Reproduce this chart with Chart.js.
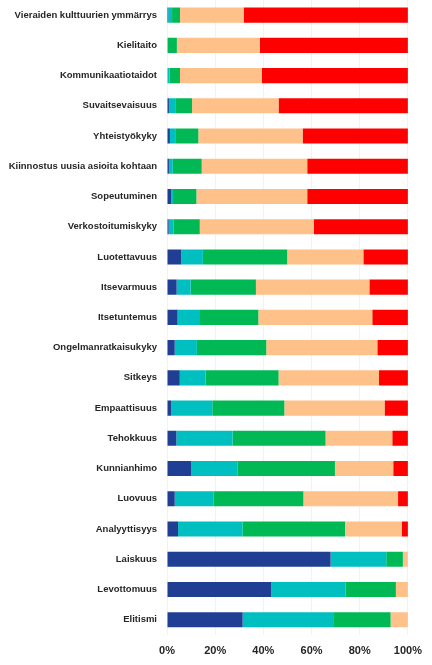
<!DOCTYPE html>
<html>
<head>
<meta charset="utf-8">
<script src="https://cdn.jsdelivr.net/npm/chart.js@4"></script>
<style>
  html, body { margin: 0; padding: 0; background: #fff; }
  #wrap { width: 432px; height: 665px; }
</style>
</head>
<body>
<div id="wrap"><canvas id="skillsChart"></canvas></div>
<script>
// categories (top to bottom)
const categories = [
  'Vieraiden kulttuurien ymmärrys', 'Kielitaito', 'Kommunikaatiotaidot',
  'Suvaitsevaisuus', 'Yhteistyökyky', 'Kiinnostus uusia asioita kohtaan',
  'Sopeutuminen', 'Verkostoitumiskyky', 'Luotettavuus', 'Itsevarmuus',
  'Itsetuntemus', 'Ongelmanratkaisukyky', 'Sitkeys', 'Empaattisuus',
  'Tehokkuus', 'Kunnianhimo', 'Luovuus', 'Analyyttisyys', 'Laiskuus',
  'Levottomuus', 'Elitismi'
];

// shares per answer level, percent
const level1 = [0.5, 0, 0, 0.8, 1.2, 0.8, 1.8, 0.7, 5.9, 4.0, 4.4, 3.2, 5.3, 1.7, 3.9, 10.0, 3.2, 4.6, 67.9, 43.2, 31.4];
const level2 = [1.6, 0.4, 1.1, 2.9, 2.5, 1.6, 0.7, 2.1, 9.0, 5.8, 9.3, 9.2, 10.7, 17.1, 23.3, 19.2, 16.2, 26.7, 23.1, 31.0, 37.9];
const level3 = [3.3, 3.7, 4.3, 6.7, 9.3, 12.0, 9.7, 10.8, 35.0, 27.1, 24.2, 28.8, 30.3, 29.9, 38.6, 40.5, 37.2, 42.6, 6.9, 20.8, 23.5];
const level4 = [26.4, 34.5, 34.0, 35.9, 43.3, 43.8, 46.0, 47.3, 31.6, 47.1, 47.3, 46.1, 41.7, 41.6, 27.7, 24.2, 39.3, 23.6, 2.1, 5.0, 7.2];
const level5 = [68.2, 61.4, 60.6, 53.7, 43.7, 41.8, 41.8, 39.1, 18.5, 16.0, 14.8, 12.7, 12.0, 9.7, 6.5, 6.1, 4.1, 2.5, 0, 0, 0];

const xTicks = ['0%', '20%', '40%', '60%', '80%', '100%'];

const colors = ['#1F3E94', '#00BFC0', '#00B955', '#FFC18A', '#FF0000'];

Chart.defaults.font.family = "'Liberation Sans', Arial, sans-serif";
Chart.defaults.font.weight = 'bold';
Chart.defaults.color = '#262626';

const series = [level1, level2, level3, level4, level5];

new Chart(document.getElementById('skillsChart'), {
  type: 'bar',
  data: {
    labels: categories,
    datasets: series.map((vals, i) => ({
      label: 'Taso ' + (i + 1),
      data: vals,
      backgroundColor: colors[i],
      borderWidth: 0,
      categoryPercentage: 1.0,
      barPercentage: 0.5
    }))
  },
  options: {
    indexAxis: 'y',
    responsive: true,
    maintainAspectRatio: false,
    animation: false,
    layout: { padding: { top: 0, right: 14, bottom: -3, left: 6 } },
    plugins: {
      legend: { display: false },
      tooltip: { enabled: false }
    },
    scales: {
      x: {
        stacked: true,
        min: 0,
        max: 100,
        grid: { color: '#F2F2F2', drawTicks: false },
        border: { display: false },
        ticks: {
          stepSize: 20,
          padding: 10,
          font: { size: 11, weight: 'bold' },
          callback: (v, i) => xTicks[i]
        }
      },
      y: {
        stacked: true,
        afterFit: (scale) => {
          scale.width = 161;
          scale.paddingTop = 0;
          scale.paddingBottom = 0;
        },
        grid: { display: false, drawTicks: false },
        border: { display: false },
        ticks: {
          padding: 10,
          font: { size: 9.5, weight: 'bold' }
        }
      }
    }
  }
});
</script>
</body>
</html>
